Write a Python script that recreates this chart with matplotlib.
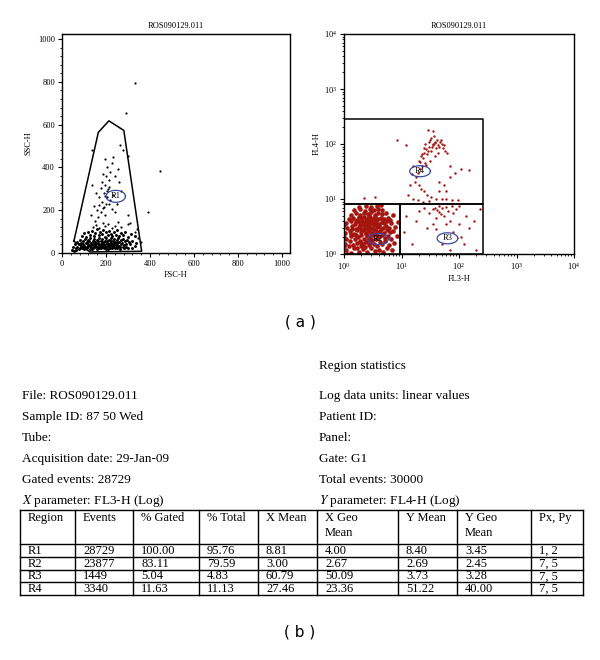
import numpy as np
import matplotlib
matplotlib.use("Agg")
import matplotlib.pyplot as plt
from matplotlib.ticker import MultipleLocator, LogLocator, NullFormatter

plt.rcParams['font.family'] = ['Liberation Serif', 'DejaVu Serif']
plt.rcParams['mathtext.fontset'] = 'stix'

# ---- data ----
title = "ROS090129.011"

# FSC-H / SSC-H events (left plot): dense core near the bottom
fsc_ssc_core = [
    (62, 22), (70, 30), (78, 18), (85, 35), (90, 25), (95, 40), (100, 20), (105, 30), (110, 45), (115, 25),
    (120, 35), (125, 18), (130, 28), (135, 42), (140, 22), (145, 33), (150, 26), (155, 40), (160, 20), (165, 30),
    (170, 38), (175, 24), (180, 32), (185, 45), (190, 22), (195, 35), (200, 28), (205, 40), (210, 20), (215, 30),
    (220, 38), (225, 25), (230, 33), (235, 45), (240, 22), (245, 30), (250, 38), (255, 26), (260, 34), (265, 20),
    (270, 42), (275, 28), (280, 36), (290, 30), (300, 25), (310, 40), (320, 22), (330, 35),
    (102, 35), (108, 22), (118, 42), (128, 32), (138, 20), (148, 45), (158, 30), (168, 22), (178, 44), (198, 20),
    (208, 34), (218, 24), (228, 44), (238, 36), (248, 24), (124, 55), (144, 40), (164, 56), (184, 36), (204, 48),
    (224, 58), (244, 42), (88, 28), (98, 32), (112, 26), (132, 38), (152, 34), (172, 28), (192, 40), (212, 44),
    (232, 28), (252, 46), (262, 28), (282, 24), (292, 44), (76, 40), (82, 24), (116, 32), (186, 26), (226, 32),
    (70, 50), (80, 60), (88, 45), (96, 55), (104, 65), (112, 50), (118, 60), (126, 70), (132, 48), (140, 58),
    (146, 66), (152, 52), (158, 62), (164, 48), (170, 70), (176, 56), (182, 64), (188, 50), (194, 58), (200, 68),
    (206, 54), (212, 62), (218, 48), (224, 70), (230, 56), (236, 64), (242, 50), (248, 60), (254, 68), (260, 52),
    (266, 60), (272, 48), (278, 66), (285, 55), (295, 62), (305, 50), (318, 58), (335, 45),
    (90, 80), (100, 95), (110, 75), (120, 100), (128, 85), (136, 105), (144, 78), (150, 92), (158, 110), (166, 82),
    (172, 98), (180, 88), (186, 108), (194, 76), (200, 96), (208, 84), (214, 104), (222, 90), (228, 78), (236, 100),
    (244, 86), (252, 106), (260, 80), (268, 94), (276, 84), (286, 100), (298, 76), (312, 90), (330, 80),
    (45, 15), (50, 28), (55, 10), (58, 40), (65, 12),
]
# sparse events above the core and outliers
fsc_ssc_sparse = [
    (140, 120), (155, 130), (170, 118), (185, 140), (195, 125), (210, 135), (225, 115), (240, 128), (255, 145),
    (270, 120), (300, 135), (340, 110),
    (150, 150), (165, 170), (175, 190), (160, 200), (185, 210), (195, 180), (200, 230), (180, 240), (205, 260),
    (190, 280), (210, 300), (195, 320), (215, 340), (200, 360), (220, 380), (205, 400), (225, 420), (195, 440),
    (230, 450), (215, 310), (230, 270), (250, 230), (270, 290), (260, 330), (240, 190), (170, 260), (155, 280),
    (145, 220), (135, 320), (130, 180), (255, 395), (275, 480), (300, 455), (262, 505), (135, 480), (240, 360),
    (185, 370), (220, 250), (300, 180), (310, 140), (330, 100), (345, 70), (360, 50),
    (190, 215), (205, 290), (178, 305), (212, 230), (183, 330), (226, 205), (168, 225), (197, 265),
    (330, 795), (293, 655), (445, 385), (390, 190),
]

# R1 gate polygon and label (FSC-H, SSC-H)
r1_gate = [(54, 55), (165, 564), (213, 618), (281, 573), (362, 8), (127, 5), (54, 55)]
r1_label = (244, 265)

# FL3-H / FL4-H events (right plot)
r2_events = [
    (1.1, 1.2), (1.3, 1.05), (1.5, 1.3), (1.8, 1.1), (2.1, 1.25), (2.5, 1.1), (2.9, 1.3), (3.4, 1.15), (4.0, 1.2),
    (4.8, 1.1), (5.6, 1.3), (6.9, 1.2), (1.05, 1.5), (1.25, 1.7), (1.45, 1.45), (1.65, 1.6), (1.9, 1.75),
    (2.15, 1.5), (2.4, 1.65), (2.7, 1.45), (3.0, 1.7), (3.3, 1.55), (3.7, 1.4), (4.2, 1.65), (4.6, 1.5),
    (5.2, 1.75), (6.0, 1.45), (7.5, 1.6), (1.1, 1.9), (1.35, 2.1), (1.55, 1.85), (1.75, 2.0), (2.0, 2.2),
    (2.25, 1.9), (2.55, 2.1), (2.85, 1.95), (3.2, 2.2), (3.6, 1.9), (4.0, 2.05), (4.5, 2.25), (5.1, 1.95),
    (5.8, 2.15), (6.6, 1.9), (8.2, 2.1), (1.05, 2.4), (1.25, 2.6), (1.5, 2.35), (1.7, 2.7), (1.95, 2.5),
    (2.2, 2.75), (2.45, 2.4), (2.75, 2.6), (3.05, 2.45), (3.4, 2.7), (3.8, 2.5), (4.3, 2.65), (4.9, 2.4),
    (5.5, 2.7), (6.2, 2.5), (7.2, 2.6), (1.15, 3.0), (1.4, 3.2), (1.6, 2.9), (1.85, 3.1), (2.1, 3.3),
    (2.35, 2.95), (2.65, 3.2), (2.95, 3.0), (3.3, 3.35), (3.7, 3.05), (4.1, 3.25), (4.7, 2.95), (5.3, 3.2),
    (6.0, 3.0), (7.8, 3.1), (1.1, 3.6), (1.3, 3.9), (1.55, 3.5), (1.8, 3.8), (2.05, 4.0), (2.3, 3.55),
    (2.6, 3.85), (2.9, 3.6), (3.25, 3.95), (3.6, 3.7), (4.0, 3.5), (4.5, 3.85), (5.0, 3.6), (5.7, 3.9),
    (6.5, 3.6), (1.2, 4.3), (1.45, 4.6), (1.7, 4.2), (1.95, 4.5), (2.2, 4.8), (2.5, 4.35), (2.8, 4.65),
    (3.15, 4.4), (3.5, 4.75), (3.9, 4.3), (4.4, 4.55), (5.0, 4.4), (5.9, 4.6), (1.3, 5.2), (1.6, 5.5),
    (1.9, 5.1), (2.2, 5.6), (2.6, 5.3), (3.0, 5.7), (3.4, 5.2), (3.9, 5.5), (4.5, 5.3), (5.3, 5.6),
    (1.5, 6.2), (1.9, 6.5), (2.3, 6.1), (2.8, 6.6), (3.3, 6.3), (3.9, 6.7), (4.6, 6.2), (1.8, 7.3),
    (2.4, 7.6), (3.0, 7.2), (3.7, 7.5), (4.4, 7.8), (1.2, 1.4), (1.7, 1.3), (2.3, 1.35), (2.0, 1.6),
    (2.6, 1.8), (3.1, 1.8), (1.6, 2.25), (2.4, 2.3), (3.0, 2.35), (3.5, 2.3), (2.0, 2.85), (2.6, 2.85),
    (3.2, 2.8), (1.4, 2.8), (2.2, 3.6), (2.75, 3.4), (3.5, 3.5), (1.9, 3.4), (2.4, 4.1), (3.0, 4.2),
    (1.6, 4.0), (2.0, 1.4), (2.8, 1.6), (1.3, 2.3), (3.8, 2.2), (4.4, 2.9), (3.6, 4.2), (2.7, 5.0),
    (1.8, 4.8), (1.15, 1.0), (1.0, 2.0), (1.0, 3.3), (1.0, 1.4), (8.8, 3.8), (7.0, 5.2), (6.4, 4.2),
]
r4_events = [
    (20, 50), (22, 60), (25, 70), (27, 80), (30, 90), (24, 55), (28, 65), (33, 75), (35, 100), (38, 110),
    (42, 120), (45, 90), (50, 100), (40, 85), (30, 110), (26, 45), (23, 40), (21, 35), (19, 30), (18, 25),
    (17, 20), (20, 18), (22, 15), (25, 14), (28, 12), (33, 11), (36, 95), (32, 130), (29, 180), (35, 170),
    (48, 120), (55, 95), (44, 70), (38, 60), (31, 50), (27, 42), (16, 40), (15, 28), (14, 18), (13, 12),
    (16, 10), (19, 9.5), (24, 9), (30, 9.3), (40, 10), (45, 14), (50, 10), (60, 10), (75, 9.5), (95, 9.5),
    (110, 35), (150, 33), (85, 30), (70, 25), (70, 40), (55, 18), (45, 20), (25, 85), (29, 75), (34, 88),
    (39, 105), (43, 95), (47, 110), (52, 85), (57, 75), (62, 70), (26, 100), (31, 120), (37, 140), (23, 65),
    (21, 48), (60, 14), (8.2, 118), (3.5, 11), (2.2, 10.5), (12, 95),
]
r3_events = [
    (12, 5), (11, 2.5), (15, 1.5), (20, 6), (25, 7), (30, 5.5), (35, 6.5), (40, 4.5), (45, 5.8), (50, 6.8),
    (55, 5), (60, 7.2), (65, 6), (70, 4), (80, 5.5), (90, 6.5), (100, 3.5), (110, 2), (130, 5), (150, 3),
    (200, 1.2), (230, 6.5), (180, 4), (40, 2.8), (50, 1.5), (70, 1.2), (80, 2.5), (120, 1.5), (35, 3.5),
    (28, 3), (18, 4), (60, 3.5), (45, 7.5), (75, 7.5), (100, 7.5), (42, 6.2), (48, 5.4), (38, 7.0),
]

# gates (FL3-H, FL4-H)
r4_gate = [(1, 8), (1, 280), (265, 280), (265, 8), (1, 8)]
r2_gate = [(1, 1), (1, 8), (9.3, 8), (9.3, 1), (1, 1)]
r3_gate = [(9.3, 1), (9.3, 8), (265, 8), (265, 1), (9.3, 1)]
log_labels = {"R4": (21, 32), "R3": (63, 1.93), "R2": (3.9, 1.87)}

# region statistics
info_left = ["File: ROS090129.011", "Sample ID: 87 50 Wed", "Tube:",
             "Acquisition date: 29-Jan-09", "Gated events: 28729",
             r"$\mathit{X}$ parameter: FL3-H (Log)"]
info_right = ["Log data units: linear values", "Patient ID:", "Panel:",
              "Gate: G1", "Total events: 30000",
              r"$\mathit{Y}$ parameter: FL4-H (Log)"]
headers = ["Region", "Events", "% Gated", "% Total", "X Mean", "X Geo\nMean",
           "Y Mean", "Y Geo\nMean", "Px, Py"]
regions = ["R1", "R2", "R3", "R4"]
events = ["28729", "23877", "1449", "3340"]
pct_gated = ["100.00", "83.11", "5.04", "11.63"]
pct_total = ["95.76", "79.59", "4.83", "11.13"]
x_mean = ["8.81", "3.00", "60.79", "27.46"]
x_geo = ["4.00", "2.67", "50.09", "23.36"]
y_mean = ["8.40", "2.69", "3.73", "51.22"]
y_geo = ["3.45", "2.45", "3.28", "40.00"]
pxpy = ["1, 2", "7, 5", "7, 5", "7, 5"]

gate_blue = "#3949a3"
dot_red = "#a5150f"

fig = plt.figure(figsize=(6, 6.6), dpi=100)

# ---- left: FSC/SSC ----
ax1 = fig.add_axes([62 / 600, 1 - 253 / 660, 228 / 600, 219 / 660])
pts = np.array(fsc_ssc_core)
ax1.scatter(pts[:, 0], pts[:, 1], s=4.5, c="black", lw=0)
pts = np.array(fsc_ssc_sparse)
ax1.scatter(pts[:, 0], pts[:, 1], s=2.5, c="black", lw=0)
g = np.array(r1_gate)
ax1.plot(g[:, 0], g[:, 1], color="black", lw=1.1)
t = np.linspace(0, 2 * np.pi, 100)
ax1.plot(r1_label[0] + 44 * np.cos(t), r1_label[1] + 28 * np.sin(t), color=gate_blue, lw=0.9)
ax1.text(r1_label[0], r1_label[1], "R1", fontsize=6, ha="center", va="center")
ax1.set_xlim(0, 1036)
ax1.set_ylim(0, 1024)
ax1.xaxis.set_major_locator(MultipleLocator(200))
ax1.yaxis.set_major_locator(MultipleLocator(200))
ax1.xaxis.set_minor_locator(MultipleLocator(40))
ax1.yaxis.set_minor_locator(MultipleLocator(40))
ax1.set_xlabel("FSC-H", fontsize=6, labelpad=2)
ax1.set_ylabel("SSC-H", fontsize=6, labelpad=4)
ax1.set_title(title, fontsize=6, pad=4)

# ---- right: FL3/FL4 ----
ax2 = fig.add_axes([344 / 600, 1 - 254 / 660, 230 / 600, 220 / 660])
ax2.set_xscale("log")
ax2.set_yscale("log")
p = np.array(r2_events)
ax2.scatter(p[:, 0], p[:, 1], s=11, c=dot_red, lw=0)
for ev in (r4_events, r3_events):
    p = np.array(ev)
    ax2.scatter(p[:, 0], p[:, 1], s=3, c=dot_red, lw=0)
for gate in (r4_gate, r2_gate, r3_gate):
    g = np.array(gate)
    ax2.plot(g[:, 0], g[:, 1], color="black", lw=1.1)
for name, (cx, cy) in log_labels.items():
    ax2.plot(10 ** (np.log10(cx) + 0.18 * np.cos(t)), 10 ** (np.log10(cy) + 0.1 * np.sin(t)),
             color=gate_blue, lw=0.9)
    ax2.text(cx, cy, name, fontsize=6, ha="center", va="center")
ax2.set_xlim(1, 1e4)
ax2.set_ylim(1, 1e4)
ax2.xaxis.set_major_locator(LogLocator(base=10, numticks=10))
ax2.yaxis.set_major_locator(LogLocator(base=10, numticks=10))
ax2.xaxis.set_minor_locator(LogLocator(base=10, subs=np.arange(2, 10), numticks=10))
ax2.yaxis.set_minor_locator(LogLocator(base=10, subs=np.arange(2, 10), numticks=10))
ax2.xaxis.set_minor_formatter(NullFormatter())
ax2.yaxis.set_minor_formatter(NullFormatter())
ax2.set_xlabel("FL3-H", fontsize=6, labelpad=2)
ax2.set_ylabel("FL4-H", fontsize=6, labelpad=2)
ax2.set_title(title, fontsize=6, pad=4)

for ax in (ax1, ax2):
    ax.tick_params(which="major", labelsize=6, length=3, width=0.8, direction="out", pad=2)
    ax.tick_params(which="minor", length=1.6, width=0.6, direction="out")
    for s in ax.spines.values():
        s.set_linewidth(1.0)

# ---- text and table, in pixel coordinates ----
tx = fig.add_axes([0, 0, 1, 1])
tx.set_xlim(0, 600)
tx.set_ylim(660, 0)
tx.axis("off")

tx.text(300, 322, "( a )", fontsize=11, ha="center", va="center", family="DejaVu Sans")
tx.text(300, 632, "( b )", fontsize=11, ha="center", va="center", family="DejaVu Sans")
tx.text(319, 366, "Region statistics", fontsize=9.5, va="center")
for i, (a, b) in enumerate(zip(info_left, info_right)):
    y = 396 + i * 21
    tx.text(22, y, a, fontsize=9.5, va="center")
    tx.text(319, y, b, fontsize=9.5, va="center")

col_edges = [20, 75, 133, 199, 258, 317, 398, 457, 531, 583]
row_edges = [510, 544, 557, 569.5, 582, 594.5]
for r in row_edges:
    tx.plot([col_edges[0], col_edges[-1]], [r, r], color="black", lw=1.0)
for c in col_edges:
    tx.plot([c, c], [row_edges[0], row_edges[-1]], color="black", lw=1.0)

columns = [regions, events, pct_gated, pct_total, x_mean, x_geo, y_mean, y_geo, pxpy]
for j, h in enumerate(headers):
    x = col_edges[j] + 8
    tx.text(x, 512, h, fontsize=9, va="top", linespacing=1.3)
    for i, v in enumerate(columns[j]):
        tx.text(x, (row_edges[i + 1] + row_edges[i + 2]) / 2 + 0.5, v, fontsize=9, va="center")

fig.savefig("out.png", dpi=100)
